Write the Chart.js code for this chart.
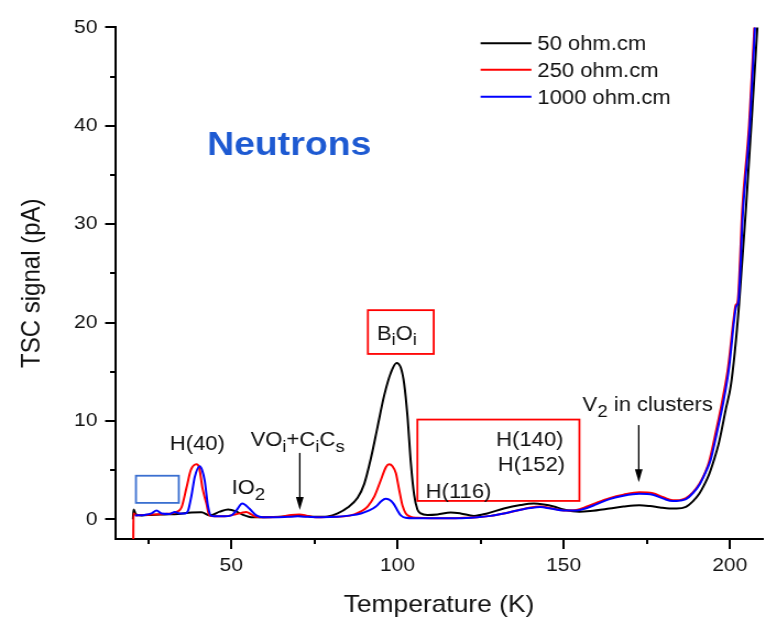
<!DOCTYPE html>
<html>
<head>
<meta charset="utf-8">
<script src="https://cdn.jsdelivr.net/npm/chart.js@4.4.1/dist/chart.umd.min.js"></script>
<style>
  html, body { margin: 0; padding: 0; background: #fff; }
</style>
</head>
<body>
<!-- the original figure is a little stretched sideways, so the canvas is too -->
<canvas id="tsc" width="696" height="624" style="display:block;width:766px;height:624px"></canvas>
<script>
// TSC spectra after neutron irradiation, three resistivities.
var FAMILY = "'Liberation Sans', Arial, sans-serif";

var seriesNames = ['50 ohm.cm', '250 ohm.cm', '1000 ohm.cm'];
var seriesColors = ['#000000', '#ff0000', '#0000ff'];

var xTicks = [50, 100, 150, 200];
var xMinor = [25, 75, 125, 175];
var yTicks = [0, 10, 20, 30, 40, 50];
var yMinor = [5, 15, 25, 35, 45];

// 50 ohm.cm
var t50 = [20.4, 20.6, 21.3, 23, 26, 30, 34, 38, 41, 43.5, 46.5, 49, 51.6, 53.5, 56.5, 60, 65, 68, 70, 72, 75, 79,
  82, 85, 88, 90, 92, 94, 96, 98, 99.7, 101, 102, 103, 104, 105, 106, 107, 109, 112, 116, 119, 123, 127, 132, 137,
  141, 144, 147, 150, 154.7, 158, 163.8, 168, 172.8, 176, 179, 181.8, 184, 186.8, 188.8, 190.8, 192.3, 193.8, 195.3,
  196.8, 198.8, 200.3, 201.5, 202.8, 204.9, 206.8, 208.3];
var v50 = [0.0, 1.0, 0.5, 0.4, 0.45, 0.5, 0.55, 0.7, 0.72, 0.4, 0.78, 1.0, 0.78, 0.45, 0.2, 0.2, 0.25, 0.35, 0.4, 0.35, 0.25, 0.3,
  0.6, 1.2, 2.2, 3.6, 6.2, 9.4, 12.6, 14.9, 15.9, 15.4, 13.8, 10.5, 5.8, 2.5, 1.0, 0.6, 0.45, 0.5, 0.7, 0.6, 0.35, 0.6, 1.1, 1.45,
  1.6, 1.5, 1.3, 1.0, 0.78, 0.85, 1.1, 1.3, 1.44, 1.35, 1.2, 1.1, 1.1, 1.27, 1.8, 2.6, 3.5, 4.6, 6.1,
  7.9, 11.2, 13.6, 17.0, 21.9, 31.8, 41.8, 50.1];

// 250 ohm.cm
var t250 = [20.5, 20.55, 21.5, 24, 27, 30, 32, 33.5, 35, 36.5, 37.8, 39.5, 40.3, 41.3, 42.5, 43.4, 45, 48, 50.5, 53, 54.5,
  56, 57.5, 60, 65, 68, 70.5, 73, 76, 80, 84, 87, 89, 91, 93, 95, 96.5, 97.5, 98.5, 99.5, 100.5, 101.5, 102.5, 104, 106,
  110, 115, 120, 124, 128, 132, 136, 140, 143, 146, 150, 153.8, 157, 160, 163.8, 168, 172.8, 176.8, 180, 182.8, 184.8,
  186.8, 188.8, 190.8, 192.5, 193.8, 195.8, 197.8, 199.5, 201.2, 201.8, 202.3, 203.8, 205.8, 207.4];
var v250 = [-2.2, 0.6, 0.4, 0.45, 0.5, 0.55, 0.6, 0.75, 1.2, 3.2, 5.0, 5.6, 5.3, 3.2, 1.6, 0.4, 0.3, 0.3, 0.45, 0.65, 0.75,
  0.5, 0.25, 0.2, 0.25, 0.45, 0.5, 0.35, 0.2, 0.25, 0.3, 0.5, 0.8, 1.3, 2.3, 4.0, 5.3, 5.6, 5.4, 4.7, 3.0, 1.4, 0.6, 0.25, 0.15,
  0.1, 0.1, 0.15, 0.2, 0.35, 0.6, 0.9, 1.2, 1.3, 1.15, 0.9, 0.95, 1.3, 1.7, 2.15, 2.5, 2.75, 2.65, 2.25, 1.95, 1.95,
  2.15, 2.7, 3.6, 4.7, 5.9, 8.9, 12.2, 15.5, 20.5, 21.8, 22.0, 31.8, 40.1, 50.1];

// 1000 ohm.cm
var t1000 = [21, 24, 26, 27.5, 29, 31.5, 33, 34.5, 36, 37, 38, 39, 40.5, 41.2, 42, 43, 44, 46, 48, 50, 51.5, 53.3,
  55.4, 57.5, 59.5, 63, 67, 70, 73, 77, 82, 86, 89, 91.5, 93.5, 95, 96.4, 97.5, 98.8, 100, 101, 102.4, 105, 110, 118,
  124, 128, 132, 136, 140, 143, 146, 150, 153.8, 157, 160, 163.8, 168, 172.8, 176.8, 180, 182.8, 185, 186.8, 189,
  191, 193, 194.2, 196.1, 198.1, 199.8, 201.5, 202, 202.5, 204, 206, 207.6];
var v1000 = [0.4, 0.45, 0.6, 0.9, 0.6, 0.55, 0.75, 0.6, 0.6, 0.9, 2.4, 4.3, 5.4, 5.0, 3.9, 1.3, 0.35, 0.3, 0.3, 0.4, 0.9, 1.6,
  1.1, 0.4, 0.2, 0.2, 0.25, 0.3, 0.25, 0.2, 0.25, 0.4, 0.6, 0.9, 1.3, 1.8, 2.1, 2.0, 1.6, 0.9, 0.4, 0.15, 0.1, 0.1, 0.1,
  0.2, 0.35, 0.6, 0.9, 1.15, 1.25, 1.1, 0.9, 0.9, 1.15, 1.55, 2.05, 2.4, 2.6, 2.5, 2.1, 1.85, 1.9, 2.05, 2.7,
  3.6, 5.0, 6.0, 8.8, 12.0, 15.5, 20.8, 21.7, 22.0, 31.5, 40.0, 50.2];

function pts(ts, vs) { return ts.map(function (t, i) { return { x: t, y: vs[i] }; }); }

// annotations, in data units (K, pA)
var labels = [
  { text: 'H(40)', t: 31.5, v: 7.75 },
  { text: 'IO_2', t: 50.1, v: 3.3 },
  { text: 'VO_i+C_iC_s', t: 55.8, v: 8.17 },
  { text: 'B_iO_i', t: 93.8, v: 19.0 },
  { text: 'H(140)', t: 129.7, v: 8.2 },
  { text: 'H(152)', t: 130.2, v: 5.68 },
  { text: 'H(116)', t: 108.5, v: 2.86 },
  { text: 'V_2 in clusters', t: 155.7, v: 11.73 }
];
var boxes = [
  { t0: 91.1, t1: 110.9, v0: 16.81, v1: 21.26, color: '#ff0000' },
  { t0: 106.0, t1: 154.75, v0: 1.87, v1: 10.14, color: '#ff0000' },
  { t0: 21.3, t1: 34.2, v0: 1.67, v1: 4.43, color: '#3a6fd0' }
];
var arrows = [
  { t: 70.6, v0: 6.75, v1: 0.95 },
  { t: 172.6, v0: 9.58, v1: 3.76 }
];
var legendRows = [48.4, 45.7, 42.96];

function rich(ctx, str, x, y, size, color, bold) {
  // '_' puts the next char as a subscript; y is the middle of the capitals
  var parts = str.split(/(_.)/).filter(function (p) { return p !== ''; });
  var base = y + size * 0.358;
  ctx.save();
  ctx.fillStyle = color;
  ctx.textAlign = 'left';
  ctx.textBaseline = 'alphabetic';
  parts.forEach(function (p) {
    var sub = p.charAt(0) === '_' && p.length === 2;
    var s = sub ? p.charAt(1) : p;
    ctx.font = (bold ? 'bold ' : '') + (sub ? size * 0.85 : size) + 'px ' + FAMILY;
    ctx.fillText(s, x, sub ? base + size * 0.28 : base);
    x += ctx.measureText(s).width;
  });
  ctx.restore();
}

var decor = {
  id: 'decor',
  afterDatasetsDraw: function (chart) {
    var ctx = chart.ctx, xs = chart.scales.x, ys = chart.scales.y, a = chart.chartArea;
    ctx.save();

    // tick marks (outside), major and minor
    ctx.strokeStyle = '#000';
    ctx.lineWidth = 2;
    ctx.beginPath();
    xTicks.concat(xMinor).forEach(function (t) {
      var px = Math.round(xs.getPixelForValue(t)), len = xTicks.indexOf(t) >= 0 ? 10 : 5;
      ctx.moveTo(px, a.bottom); ctx.lineTo(px, a.bottom + len);
    });
    yTicks.concat(yMinor).forEach(function (v) {
      var py = Math.round(ys.getPixelForValue(v)), len = yTicks.indexOf(v) >= 0 ? 9 : 4.5;
      ctx.moveTo(a.left, py); ctx.lineTo(a.left - len, py);
    });
    ctx.stroke();

    // boxes
    boxes.forEach(function (b) {
      var x0 = xs.getPixelForValue(b.t0), x1 = xs.getPixelForValue(b.t1);
      var y0 = ys.getPixelForValue(b.v1), y1 = ys.getPixelForValue(b.v0);
      ctx.strokeStyle = b.color;
      ctx.lineWidth = 1.8;
      ctx.strokeRect(x0, y0, x1 - x0, y1 - y0);
    });

    // arrows
    arrows.forEach(function (ar) {
      var px = xs.getPixelForValue(ar.t), y0 = ys.getPixelForValue(ar.v0), y1 = ys.getPixelForValue(ar.v1);
      ctx.strokeStyle = '#000';
      ctx.fillStyle = '#000';
      ctx.lineWidth = 1.3;
      ctx.beginPath(); ctx.moveTo(px, y0); ctx.lineTo(px, y1 - 10); ctx.stroke();
      ctx.beginPath(); ctx.moveTo(px - 3.5, y1 - 13); ctx.lineTo(px + 3.5, y1 - 13); ctx.lineTo(px, y1); ctx.closePath(); ctx.fill();
    });

    labels.forEach(function (l) {
      rich(ctx, l.text, xs.getPixelForValue(l.t), ys.getPixelForValue(l.v), 20, '#111', false);
    });
    rich(ctx, 'Neutrons', xs.getPixelForValue(42.7), ys.getPixelForValue(38.3), 34, '#1e5ad2', true);

    // legend
    seriesNames.forEach(function (name, i) {
      var py = ys.getPixelForValue(legendRows[i]);
      ctx.strokeStyle = seriesColors[i];
      ctx.lineWidth = 2;
      ctx.beginPath(); ctx.moveTo(xs.getPixelForValue(125.0), py); ctx.lineTo(xs.getPixelForValue(140.3), py); ctx.stroke();
      rich(ctx, name, xs.getPixelForValue(142.1), py, 20, '#111', false);
    });
    ctx.restore();
  }
};

var tickFont = { family: FAMILY, size: 19 };
var titleFont = { family: FAMILY, size: 24 };

new Chart(document.getElementById('tsc').getContext('2d'), {
  type: 'line',
  data: {
    datasets: [
      { label: seriesNames[0], data: pts(t50, v50), borderColor: seriesColors[0], order: 2 },
      { label: seriesNames[1], data: pts(t250, v250), borderColor: seriesColors[1], order: 1 },
      { label: seriesNames[2], data: pts(t1000, v1000), borderColor: seriesColors[2], order: 0 }
    ]
  },
  options: {
    responsive: false, animation: false, devicePixelRatio: 1,
    layout: { padding: { left: 0, top: 17.5, right: 2.7, bottom: 0 } },
    elements: {
      point: { radius: 0 },
      line: { borderWidth: 2, fill: false, tension: 0.4, cubicInterpolationMode: 'monotone' }
    },
    plugins: { legend: { display: false }, tooltip: { enabled: false } },
    scales: {
      x: {
        type: 'linear', min: 15, max: 210,
        afterFit: function (s) { s.height = 85; },
        afterBuildTicks: function (s) { s.ticks = xTicks.map(function (v) { return { value: v }; }); },
        grid: { display: false, drawTicks: false },
        border: { display: true, color: '#000', width: 2 },
        ticks: { padding: 15, font: tickFont, color: '#111', maxRotation: 0 },
        title: { display: true, text: 'Temperature (K)', font: titleFont, color: '#111', padding: { top: 0, bottom: 4 } }
      },
      y: {
        min: -2, max: 50,
        afterFit: function (s) { s.width = 104.5; },
        afterBuildTicks: function (s) { s.ticks = yTicks.map(function (v) { return { value: v }; }); },
        grid: { display: false, drawTicks: false },
        border: { display: true, color: '#000', width: 2 },
        ticks: { padding: 16, font: tickFont, color: '#111' },
        title: { display: true, text: 'TSC signal (pA)', font: titleFont, color: '#111', padding: { top: 15, bottom: 0 } }
      }
    }
  },
  plugins: [decor]
});
</script>
</body>
</html>
